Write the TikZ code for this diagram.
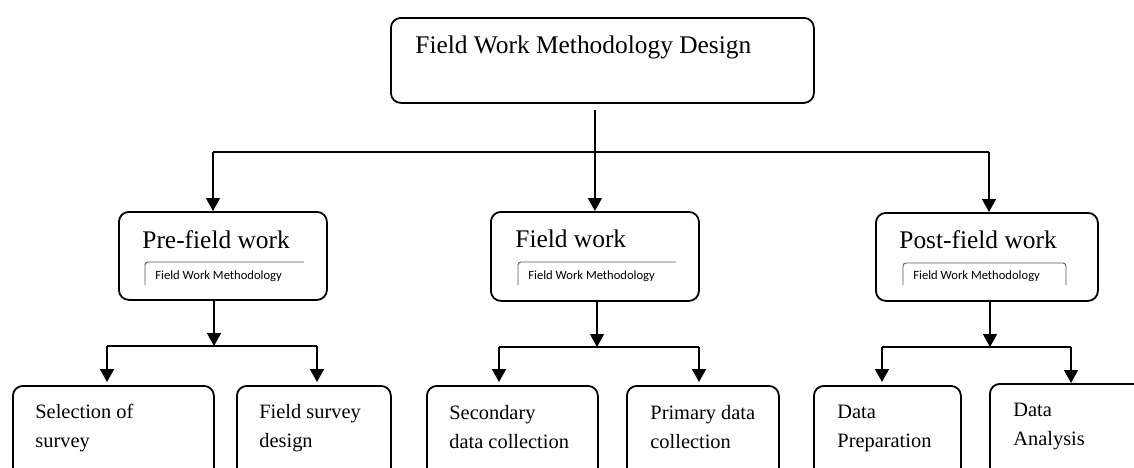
\documentclass[tikz,border=0pt]{standalone}
\usepackage{fontspec}
\setmainfont{Liberation Serif}
\newfontfamily\tagfont{Carlito}
\usetikzlibrary{arrows.meta}

\begin{document}
\begin{tikzpicture}[x=0.5pt,y=-0.5pt,
  box/.style={draw=black,line width=0.9pt,rounded corners=5pt,anchor=north west,inner sep=0pt},
  title/.style={anchor=base west,inner sep=0pt,font=\fontsize{12.7}{15}\selectfont},
  leaf/.style={anchor=base west,inner sep=0pt,align=left,font=\fontsize{10.2}{14.5}\selectfont},
  tag/.style={anchor=base west,inner sep=0pt,font=\tagfont\fontsize{6.3}{7.5}\selectfont},
  tagline/.style={draw=black!65,line width=0.45pt,rounded corners=1.5pt},
  link/.style={draw=black,line width=0.75pt},
  arr/.style={link,-{Triangle[width=7pt,length=6.5pt]}}]
		\useasboundingbox (0,0) rectangle (1134,467);
		\clip (0,0) rectangle (1134,467);
		% top box
		\node [box,minimum width=211.5pt,minimum height=42.5pt] (design) at (390,17) {};
		\node [title] (designtxt) at (415,53) {Field Work Methodology Design};
		% stages
		\node [box,minimum width=104pt,minimum height=44pt] (pre) at (118,211) {};
		\node [title] (pretxt) at (142,248) {Pre-field work};
		\node [tag] (pretag) at (155,279) {Field Work Methodology};
		\draw [tagline] (145,285) -- (145,262) -- (304,262);
		\node [box,minimum width=104pt,minimum height=44.5pt] (field) at (490,211) {};
		\node [title] (fieldtxt) at (515,247) {Field work};
		\node [tag] (fieldtag) at (528,279) {Field Work Methodology};
		\draw [tagline] (518,285) -- (518,262) -- (676,262);
		\node [box,minimum width=111pt,minimum height=44pt] (post) at (875,212) {};
		\node [title] (posttxt) at (899,248) {Post-field work};
		\node [tag] (posttag) at (913,279) {Field Work Methodology};
		\draw [tagline] (903,285) -- (903,263) -- (1066,263) -- (1066,285);
		% tasks (base is the last line)
		\node [box,minimum width=100.5pt,minimum height=55pt] (sel) at (12,385) {};
		\node [leaf] (seltxt) at (35,447) {Selection of\\survey};
		\node [box,minimum width=77pt,minimum height=55pt] (fsd) at (236,385) {};
		\node [leaf] (fsdtxt) at (259,447) {Field survey\\design};
		\node [box,minimum width=85.5pt,minimum height=55pt] (sec) at (426,385) {};
		\node [leaf] (sectxt) at (449,448) {Secondary\\data collection};
		\node [box,minimum width=76pt,minimum height=55pt] (pri) at (626,385) {};
		\node [leaf] (pritxt) at (650,448) {Primary data\\collection};
		\node [box,minimum width=73.5pt,minimum height=55pt] (prep) at (813,385) {};
		\node [leaf] (preptxt) at (837,447) {Data\\Preparation};
		\node [box,minimum width=100pt,minimum height=55pt] (ana) at (989,383) {};
		\node [leaf] (anatxt) at (1013,445) {Data\\Analysis};
		% top branch
		\coordinate (ltop) at (213,152);
		\coordinate (rtop) at (989,152);
		\draw [arr,shorten <=3pt] (field.north |- design.south) -- (field.north);
		\draw [link] (ltop) -- (rtop);
		\draw [arr] (ltop) -- (ltop |- pre.north);
		\draw [arr] (rtop) -- (rtop |- post.north);
		% pre-field branch
		\coordinate (jpre) at (214,346);
		\coordinate (lpre) at (107,346);
		\coordinate (rpre) at (317,346);
		\draw [arr] (pre.south -| jpre) -- (jpre);
		\draw [link] (lpre) -- (rpre);
		\draw [arr,shorten >=1.5pt] (lpre) -- (lpre |- sel.north);
		\draw [arr,shorten >=1.5pt] (rpre) -- (rpre |- fsd.north);
		% field branch
		\coordinate (jfield) at (597,347);
		\coordinate (lfield) at (499,347);
		\coordinate (rfield) at (699,347);
		\draw [arr] (field.south -| jfield) -- (jfield);
		\draw [link] (lfield) -- (rfield);
		\draw [arr,shorten >=1.5pt] (lfield) -- (lfield |- sec.north);
		\draw [arr,shorten >=1.5pt] (rfield) -- (rfield |- pri.north);
		% post-field branch
		\coordinate (jpost) at (990,347);
		\coordinate (lpost) at (882,347);
		\coordinate (rpost) at (1071,347);
		\draw [arr] (post.south -| jpost) -- (jpost);
		\draw [link] (lpost) -- (rpost);
		\draw [arr,shorten >=1.5pt] (lpost) -- (lpost |- prep.north);
		\draw [arr] (rpost) -- (rpost |- ana.north);
\end{tikzpicture}
\end{document}
